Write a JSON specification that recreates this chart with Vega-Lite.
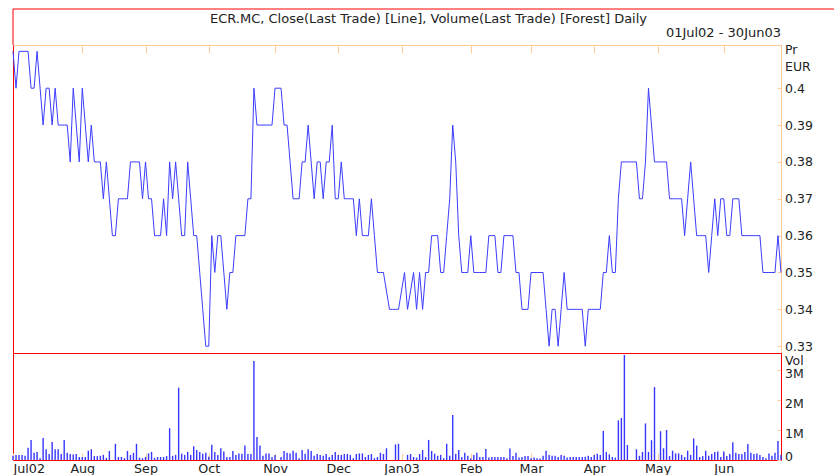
{
  "$schema": "https://vega.github.io/schema/vega-lite/v6.json",
  "background": "white",
  "padding": {"left": 10, "top": 8, "right": 0, "bottom": 0},
  "autosize": {"type": "pad"},
  "config": {
    "view": {"stroke": null},
    "font": "DejaVu Sans",
    "axis": {"grid": false, "labelFont": "DejaVu Sans", "titleFont": "DejaVu Sans"},
    "title": {"font": "DejaVu Sans", "fontWeight": "normal", "color": "#222222"}
  },
  "datasets": {
    "p": [
      {"d":0,"c":0.41,"v":140000},{"d":1,"c":0.40,"v":170000},{"d":2,"c":0.41,"v":170000},{"d":3,"c":0.41,"v":170000},{"d":4,"c":0.41,"v":140000},
      {"d":5,"c":0.41,"v":410000},{"d":6,"c":0.40,"v":670000},{"d":7,"c":0.40,"v":240000},{"d":8,"c":0.41,"v":270000},{"d":9,"c":0.40,"v":60000},
      {"d":10,"c":0.39,"v":730000},{"d":11,"c":0.40,"v":360000},{"d":12,"c":0.40,"v":200000},{"d":13,"c":0.39,"v":600000},{"d":14,"c":0.40,"v":360000},
      {"d":15,"c":0.39,"v":360000},{"d":16,"c":0.39,"v":200000},{"d":17,"c":0.39,"v":670000},{"d":18,"c":0.39,"v":240000},{"d":19,"c":0.38,"v":200000},
      {"d":20,"c":0.40,"v":180000},{"d":21,"c":0.39,"v":200000},{"d":22,"c":0.38,"v":100000},{"d":23,"c":0.40,"v":100000},{"d":24,"c":0.39,"v":100000},
      {"d":25,"c":0.38,"v":310000},{"d":26,"c":0.39,"v":360000},{"d":27,"c":0.38,"v":130000},{"d":28,"c":0.38,"v":130000},{"d":29,"c":0.38,"v":140000},
      {"d":30,"c":0.37,"v":170000},{"d":31,"c":0.38,"v":70000},{"d":32,"c":0.37,"v":300000},{"d":33,"c":0.36,"v":0},{"d":34,"c":0.36,"v":540000},
      {"d":35,"c":0.37,"v":100000},{"d":36,"c":0.37,"v":100000},{"d":37,"c":0.37,"v":60000},{"d":38,"c":0.37,"v":300000},{"d":39,"c":0.38,"v":170000},
      {"d":40,"c":0.38,"v":240000},{"d":41,"c":0.38,"v":540000},{"d":42,"c":0.38,"v":80000},{"d":43,"c":0.37,"v":60000},{"d":44,"c":0.38,"v":100000},
      {"d":45,"c":0.37,"v":220000},{"d":46,"c":0.37,"v":270000},{"d":47,"c":0.36,"v":70000},{"d":48,"c":0.36,"v":100000},{"d":49,"c":0.36,"v":100000},
      {"d":50,"c":0.37,"v":100000},{"d":51,"c":0.36,"v":130000},{"d":52,"c":0.38,"v":1060000},{"d":53,"c":0.37,"v":140000},{"d":54,"c":0.38,"v":170000},
      {"d":55,"c":0.37,"v":2410000},{"d":56,"c":0.36,"v":210000},{"d":57,"c":0.36,"v":170000},{"d":58,"c":0.38,"v":270000},{"d":59,"c":0.37,"v":170000},
      {"d":60,"c":0.36,"v":460000},{"d":61,"c":0.36,"v":330000},{"d":62,"c":0.35,"v":270000},{"d":63,"c":0.34,"v":210000},{"d":64,"c":0.33,"v":240000},
      {"d":65,"c":0.33,"v":110000},{"d":66,"c":0.36,"v":510000},{"d":67,"c":0.35,"v":270000},{"d":68,"c":0.36,"v":170000},{"d":69,"c":0.36,"v":390000},
      {"d":70,"c":0.35,"v":280000},{"d":71,"c":0.34,"v":100000},{"d":72,"c":0.35,"v":100000},{"d":73,"c":0.35,"v":300000},{"d":74,"c":0.36,"v":170000},
      {"d":75,"c":0.36,"v":220000},{"d":76,"c":0.36,"v":210000},{"d":77,"c":0.36,"v":480000},{"d":78,"c":0.37,"v":200000},{"d":79,"c":0.37,"v":200000},
      {"d":80,"c":0.40,"v":3300000},{"d":81,"c":0.39,"v":770000},{"d":82,"c":0.39,"v":480000},{"d":83,"c":0.39,"v":140000},{"d":84,"c":0.39,"v":220000},
      {"d":85,"c":0.39,"v":220000},{"d":86,"c":0.39,"v":100000},{"d":87,"c":0.40,"v":170000},{"d":88,"c":0.40,"v":0},{"d":89,"c":0.40,"v":100000},
      {"d":90,"c":0.39,"v":300000},{"d":91,"c":0.39,"v":240000},{"d":92,"c":0.38,"v":220000},{"d":93,"c":0.37,"v":310000},{"d":94,"c":0.37,"v":240000},
      {"d":95,"c":0.37,"v":60000},{"d":96,"c":0.38,"v":330000},{"d":97,"c":0.38,"v":210000},{"d":98,"c":0.39,"v":360000},{"d":99,"c":0.38,"v":300000},
      {"d":100,"c":0.37,"v":140000},{"d":101,"c":0.38,"v":200000},{"d":102,"c":0.38,"v":170000},{"d":103,"c":0.37,"v":140000},{"d":104,"c":0.38,"v":200000},
      {"d":105,"c":0.38,"v":100000},{"d":106,"c":0.39,"v":170000},{"d":107,"c":0.37,"v":270000},{"d":108,"c":0.37,"v":170000},{"d":109,"c":0.38,"v":170000},
      {"d":110,"c":0.37,"v":200000},{"d":111,"c":0.37,"v":200000},{"d":112,"c":0.37,"v":170000},{"d":113,"c":0.37,"v":60000},{"d":114,"c":0.36,"v":200000},
      {"d":115,"c":0.37,"v":220000},{"d":116,"c":0.36,"v":220000},{"d":117,"c":0.36,"v":100000},{"d":118,"c":0.36,"v":170000},{"d":119,"c":0.37,"v":200000},
      {"d":120,"c":0.36,"v":60000},{"d":121,"c":0.35,"v":100000},{"d":122,"c":0.35,"v":240000},{"d":123,"c":0.35,"v":200000},{"d":124,"c":0.345,"v":390000},
      {"d":125,"c":0.34,"v":0},{"d":126,"c":0.34,"v":0},{"d":127,"c":0.34,"v":520000},{"d":128,"c":0.34,"v":540000},{"d":129,"c":0.345,"v":0},
      {"d":130,"c":0.35,"v":0},{"d":131,"c":0.34,"v":170000},{"d":132,"c":0.345,"v":200000},{"d":133,"c":0.35,"v":100000},{"d":134,"c":0.34,"v":80000},
      {"d":135,"c":0.35,"v":200000},{"d":136,"c":0.34,"v":330000},{"d":137,"c":0.35,"v":100000},{"d":138,"c":0.35,"v":670000},{"d":139,"c":0.36,"v":300000},
      {"d":140,"c":0.36,"v":210000},{"d":141,"c":0.36,"v":140000},{"d":142,"c":0.35,"v":170000},{"d":143,"c":0.35,"v":60000},{"d":144,"c":0.36,"v":540000},
      {"d":145,"c":0.37,"v":140000},{"d":146,"c":0.39,"v":1500000},{"d":147,"c":0.38,"v":200000},{"d":148,"c":0.36,"v":330000},{"d":149,"c":0.35,"v":100000},
      {"d":150,"c":0.35,"v":240000},{"d":151,"c":0.35,"v":140000},{"d":152,"c":0.36,"v":50000},{"d":153,"c":0.35,"v":170000},{"d":154,"c":0.35,"v":240000},
      {"d":155,"c":0.35,"v":100000},{"d":156,"c":0.35,"v":100000},{"d":157,"c":0.35,"v":370000},{"d":158,"c":0.36,"v":80000},{"d":159,"c":0.36,"v":100000},
      {"d":160,"c":0.36,"v":100000},{"d":161,"c":0.35,"v":100000},{"d":162,"c":0.35,"v":100000},{"d":163,"c":0.36,"v":100000},{"d":164,"c":0.36,"v":60000},
      {"d":165,"c":0.36,"v":380000},{"d":166,"c":0.36,"v":130000},{"d":167,"c":0.35,"v":240000},{"d":168,"c":0.35,"v":80000},{"d":169,"c":0.34,"v":100000},
      {"d":170,"c":0.34,"v":130000},{"d":171,"c":0.34,"v":130000},{"d":172,"c":0.35,"v":60000},{"d":173,"c":0.35,"v":80000},{"d":174,"c":0.35,"v":60000},
      {"d":175,"c":0.35,"v":50000},{"d":176,"c":0.35,"v":140000},{"d":177,"c":0.34,"v":310000},{"d":178,"c":0.33,"v":170000},{"d":179,"c":0.34,"v":140000},
      {"d":180,"c":0.34,"v":140000},{"d":181,"c":0.33,"v":100000},{"d":182,"c":0.34,"v":170000},{"d":183,"c":0.35,"v":140000},{"d":184,"c":0.34,"v":80000},
      {"d":185,"c":0.34,"v":100000},{"d":186,"c":0.34,"v":100000},{"d":187,"c":0.34,"v":100000},{"d":188,"c":0.34,"v":100000},{"d":189,"c":0.34,"v":100000},
      {"d":190,"c":0.33,"v":110000},{"d":191,"c":0.34,"v":140000},{"d":192,"c":0.34,"v":100000},{"d":193,"c":0.34,"v":170000},{"d":194,"c":0.34,"v":210000},
      {"d":195,"c":0.34,"v":170000},{"d":196,"c":0.35,"v":970000},{"d":197,"c":0.35,"v":270000},{"d":198,"c":0.36,"v":190000},{"d":199,"c":0.35,"v":100000},
      {"d":200,"c":0.35,"v":80000},{"d":201,"c":0.37,"v":1320000},{"d":202,"c":0.38,"v":1400000},{"d":203,"c":0.38,"v":3500000},{"d":204,"c":0.38,"v":500000},
      {"d":205,"c":0.38,"v":0},{"d":206,"c":0.38,"v":0},{"d":207,"c":0.38,"v":360000},{"d":208,"c":0.37,"v":140000},{"d":209,"c":0.37,"v":270000},
      {"d":210,"c":0.38,"v":1220000},{"d":211,"c":0.40,"v":270000},{"d":212,"c":0.39,"v":660000},{"d":213,"c":0.38,"v":2430000},{"d":214,"c":0.38,"v":0},
      {"d":215,"c":0.38,"v":960000},{"d":216,"c":0.38,"v":390000},{"d":217,"c":0.38,"v":1000000},{"d":218,"c":0.37,"v":130000},{"d":219,"c":0.37,"v":310000},
      {"d":220,"c":0.37,"v":220000},{"d":221,"c":0.37,"v":220000},{"d":222,"c":0.37,"v":170000},{"d":223,"c":0.36,"v":100000},{"d":224,"c":0.37,"v":310000},
      {"d":225,"c":0.38,"v":170000},{"d":226,"c":0.37,"v":720000},{"d":227,"c":0.36,"v":480000},{"d":228,"c":0.36,"v":100000},{"d":229,"c":0.36,"v":130000},
      {"d":230,"c":0.36,"v":310000},{"d":231,"c":0.35,"v":140000},{"d":232,"c":0.36,"v":200000},{"d":233,"c":0.37,"v":270000},{"d":234,"c":0.36,"v":280000},
      {"d":235,"c":0.37,"v":100000},{"d":236,"c":0.37,"v":280000},{"d":237,"c":0.36,"v":130000},{"d":238,"c":0.36,"v":200000},{"d":239,"c":0.37,"v":590000},
      {"d":240,"c":0.37,"v":240000},{"d":241,"c":0.37,"v":200000},{"d":242,"c":0.36,"v":200000},{"d":243,"c":0.36,"v":270000},{"d":244,"c":0.36,"v":530000},
      {"d":245,"c":0.36,"v":240000},{"d":246,"c":0.36,"v":200000},{"d":247,"c":0.36,"v":220000},{"d":248,"c":0.36,"v":170000},{"d":249,"c":0.35,"v":100000},
      {"d":250,"c":0.35,"v":60000},{"d":251,"c":0.35,"v":220000},{"d":252,"c":0.35,"v":140000},{"d":253,"c":0.35,"v":240000},{"d":254,"c":0.36,"v":630000},
      {"d":255,"c":0.35,"v":170000}
    ]
  },
  "vconcat": [
    {
      "width": 823,
      "height": 36,
      "title": {"text": "ECR.MC, Close(Last Trade) [Line], Volume(Last Trade) [Forest] Daily", "anchor": "middle", "frame": "group", "orient": "top", "offset": -17, "fontSize": 13, "dx": 4},
      "data": {"values": [{}]},
      "layer": [
        {
          "mark": {"type": "rule", "color": "#ff0000", "strokeWidth": 1},
          "encoding": {
            "x": {"datum": 0, "type": "quantitative", "scale": {"domain": [0, 1], "nice": false, "zero": false}, "axis": null},
            "x2": {"datum": 1},
            "y": {"datum": 1, "type": "quantitative", "scale": {"domain": [0, 1], "nice": false, "zero": false}, "axis": null}
          }
        },
        {
          "mark": {"type": "rule", "color": "#ff0000", "strokeWidth": 1},
          "encoding": {
            "x": {"datum": 0, "type": "quantitative"},
            "y": {"datum": 0, "type": "quantitative"},
            "y2": {"datum": 1}
          }
        }
      ]
    },
    {
      "width": 768,
      "height": 308,
      "view": {"stroke": "#ff0000"},
      "data": {"name": "p"},
      "title": {"text": "01Jul02 - 30Jun03", "anchor": "end", "frame": "group", "orient": "top", "offset": 4, "fontSize": 13},
      "mark": {"type": "line", "color": "#3c3cff", "strokeWidth": 1},
      "encoding": {
        "x": {"field": "d", "type": "quantitative", "scale": {"domain": [0, 255], "nice": false, "zero": false},
          "axis": {"orient": "top", "values": [23, 44, 65, 87, 108, 129, 152, 172, 193, 214, 236], "labels": false, "domainColor": "#ffcc99", "tickColor": "#ffcc99", "tickSize": -8, "title": null, "grid": false}},
        "y": {"field": "c", "type": "quantitative", "scale": {"domain": [0.32816, 0.41172], "nice": false, "zero": false},
          "axis": {"orient": "right", "values": [0.33, 0.34, 0.35, 0.36, 0.37, 0.38, 0.39, 0.4], "format": ".2~f", "domainColor": "#ffcc99", "tickColor": "#ffcc99", "tickSize": -4, "labelPadding": 7.5, "labelFontSize": 12.5, "labelColor": "#222222",
            "title": ["Pr", "EUR"], "titleAngle": 0, "titleAlign": "left", "titleBaseline": "top", "titleX": 3.5, "titleY": -1.5, "titleFontWeight": "normal", "titleFontSize": 12.5, "titleColor": "#222222", "titleLineHeight": 16.5, "grid": false}}
      }
    },
    {
      "width": 768,
      "height": 107,
      "view": {"stroke": "#ff0000"},
      "data": {"name": "p"},
      "mark": {"type": "rule", "color": "#3636ff", "strokeWidth": 1.4},
      "encoding": {
        "x": {"field": "d", "type": "quantitative", "scale": {"domain": [0, 255], "nice": false, "zero": false},
          "axis": {"orient": "bottom", "values": [0, 23, 44, 65, 87, 108, 129, 152, 172, 193, 214, 236],
            "labelExpr": "['Jul02','Aug','Sep','Oct','Nov','Dec','Jan03','Feb','Mar','Apr','May','Jun'][indexof([0,23,44,65,87,108,129,152,172,193,214,236], datum.value)]",
            "labelFlush": true, "labelOverlap": false, "domainColor": "#ff0000", "tickColor": "#ffcc99", "tickSize": -7, "labelPadding": 9.5, "labelFontSize": 12.7, "labelColor": "#222222", "title": null, "grid": false}},
        "y": {"field": "v", "type": "quantitative", "scale": {"domain": [0, 3567000], "nice": false},
          "axis": {"orient": "right", "values": [0, 1000000, 2000000, 3000000], "labelExpr": "datum.value == 0 ? '0' : (datum.value / 1000000) + 'M'", "labelFlush": true, "labelOffset": 3,
            "domainColor": "#ff0000", "tickColor": "#ffcc99", "tickSize": -4, "labelPadding": 7.5, "labelFontSize": 12.5, "labelColor": "#222222",
            "title": "Vol", "titleAngle": 0, "titleAlign": "left", "titleBaseline": "top", "titleX": 3.5, "titleY": 1.5, "titleFontWeight": "normal", "titleFontSize": 12.5, "titleColor": "#222222", "grid": false}},
        "y2": {"datum": 0}
      }
    }
  ],
  "spacing": 0,
  "bounds": "flush"
}
